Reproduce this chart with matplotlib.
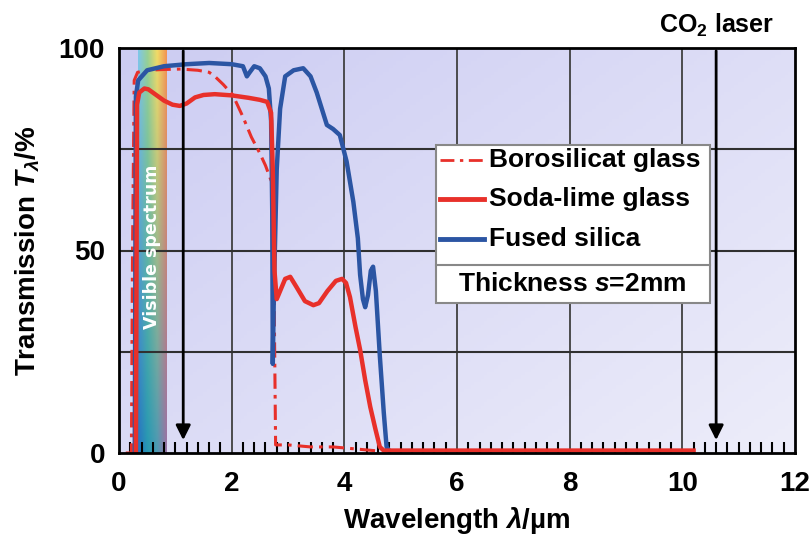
import numpy as np
import matplotlib
matplotlib.use("Agg")
import matplotlib.pyplot as plt
from matplotlib import font_manager as fm
from matplotlib.patches import Rectangle
from matplotlib.lines import Line2D
from matplotlib.ticker import MultipleLocator

# --- data (wavelength in um, transmission in %) ---
silica_x = [0.28, 0.30, 0.34, 0.5, 0.8, 1.2, 1.6, 2.0, 2.2, 2.27, 2.32, 2.4, 2.5, 2.6,
            2.66, 2.70, 2.72, 2.73, 2.75, 2.80, 2.86, 2.95, 3.1, 3.27, 3.4, 3.51, 3.6,
            3.69, 3.8, 3.92, 4.04, 4.16, 4.24, 4.28, 4.33, 4.37, 4.42, 4.47, 4.51,
            4.56, 4.63, 4.70, 4.75, 4.80]
silica_t = [0, 88, 92, 94.5, 95.5, 96, 96.3, 96, 95.5, 93, 94, 95.5, 95, 93,
            90, 82, 60, 22, 40, 70, 85, 93, 94.5, 95, 93, 89, 85,
            81, 80, 78.5, 72, 62, 53, 44, 38, 36, 39, 45, 46,
            40, 24, 10, 1.5, 0.5]

soda_x = [0.30, 0.31, 0.32, 0.36, 0.45, 0.52, 0.65, 0.8, 0.95, 1.08, 1.2, 1.35, 1.5,
          1.7, 2.0, 2.3, 2.5, 2.63, 2.70, 2.73, 2.76, 2.80, 2.86, 2.95, 3.04, 3.15,
          3.3, 3.45, 3.55, 3.7, 3.85, 3.96, 4.03, 4.1, 4.2, 4.28, 4.37, 4.46, 4.55,
          4.63, 4.70, 6.0, 8.0, 10.2]
soda_t = [0, 40, 86, 89, 90, 89.8, 88.5, 87, 86, 85.7, 86.3, 87.8, 88.4,
          88.6, 88.3, 87.7, 87.2, 86.7, 84, 70, 45, 38, 40, 43, 43.5, 41,
          37.5, 36.5, 37, 40, 42.5, 43, 42, 38.5, 31, 25.5, 18, 11.4, 6,
          1.5, 0.6, 0.6, 0.6, 0.6]

boro_x = [0.12, 0.22, 0.24, 0.27, 0.33, 0.5, 0.8, 1.1, 1.4, 1.6, 1.7, 1.85, 2.02,
          2.2, 2.35, 2.5, 2.6, 2.68, 2.74, 2.76, 2.78, 3.0, 3.4, 3.8, 4.2, 4.6]
boro_t = [0, 0, 50, 92, 94, 94.5, 94.7, 94.8, 94.5, 94, 93, 91, 88.4,
          83, 78, 74, 71, 68, 66, 30, 2, 2, 1.5, 1.5, 1, 0.5]

laser_lines = [1.14, 10.6]
x_ticks = [0, 2, 4, 6, 8, 10, 12]
y_ticks = [0, 50, 100]
grid_x = [2, 4, 6, 8, 10]
grid_y = [25, 50, 75]
visible_band = (0.33, 0.83)

names = {f.name for f in fm.fontManager.ttflist}
fam = "Liberation Sans Narrow" if "Liberation Sans Narrow" in names else "Liberation Sans"
plt.rcParams["font.family"] = [fam, "DejaVu Sans"]
plt.rcParams["font.weight"] = "bold"
plt.rcParams["mathtext.fontset"] = "custom"
plt.rcParams["mathtext.rm"] = fam + ":bold"
plt.rcParams["mathtext.it"] = fam + ":italic:bold"
plt.rcParams["mathtext.bf"] = fam + ":bold"

RED = "#e8302a"
BLUE = "#2b55a3"

fig = plt.figure(figsize=(8.11, 5.43), dpi=100)
ax = fig.add_axes([119 / 811, 1 - 453 / 543, 676 / 811, 405 / 543])
ax.set_xlim(0, 12)
ax.set_ylim(0, 100)

# lavender background gradient
gx, gy = np.meshgrid(np.linspace(0, 1, 200), np.linspace(1, 0, 120))
w = np.clip(0.55 * gx + 0.45 * (1 - gy), 0, 1)[..., None]
c0 = np.array([0.80, 0.80, 0.95])
c1 = np.array([0.93, 0.93, 0.98])
ax.imshow(c0 * (1 - w) + c1 * w, extent=[0, 12, 0, 100], aspect="auto", zorder=0)

# visible spectrum band
top = np.array([[0.50, 0.78, 0.92], [0.60, 0.82, 0.58], [0.95, 0.86, 0.40], [0.95, 0.58, 0.32]])
bot = np.array([[0.15, 0.45, 0.75], [0.15, 0.60, 0.70], [0.30, 0.60, 0.70], [0.60, 0.45, 0.65]])
ny = 100
t = np.linspace(0, 1, ny)[:, None, None]
cols = np.linspace(0, 3, 60)
def interp(arr):
    return np.stack([np.interp(cols, np.arange(4), arr[:, k]) for k in range(3)], axis=-1)
band = interp(top)[None] * (1 - t) + interp(bot)[None] * t
ax.imshow(band, extent=[visible_band[0], visible_band[1], 0, 100], aspect="auto", zorder=1)
ax.text(np.mean(visible_band), 51, "Visible spectrum", rotation=90, color="white",
        ha="center", va="center", fontsize=12.5, fontweight="bold", family="DejaVu Sans", zorder=2)

for gxv in grid_x:
    ax.axvline(gxv, color="#404040", lw=1.3, zorder=1.5)
for gyv in grid_y:
    ax.axhline(gyv, color="#303030", lw=1.5, zorder=1.5)

ax.plot(boro_x, boro_t, color=RED, lw=2.2, ls=(0, (5, 2, 1.2, 2)), zorder=3)
ax.plot(silica_x, silica_t, color=BLUE, lw=3.2, zorder=3)
ax.plot(soda_x, soda_t, color=RED, lw=3.2, zorder=4)

for lx in laser_lines:
    ax.annotate("", xy=(lx, 2.5), xytext=(lx, 100),
                arrowprops=dict(arrowstyle="-|>", lw=2, color="black", mutation_scale=22),
                zorder=5)
ax.text(laser_lines[1], 105.5, "CO$_\\mathrm{2}$ laser", ha="center", va="center",
        fontsize=18, fontweight="bold", clip_on=False)

# legend box
ax.add_patch(Rectangle((0.469, 0.370), 0.405, 0.390, transform=ax.transAxes,
                       facecolor="white", edgecolor="#888888", lw=1.5, zorder=6))
ax.add_line(Line2D([0.469, 0.874], [0.464, 0.464], transform=ax.transAxes,
                   color="#888888", lw=1.5, zorder=7))
entries = [("Borosilicat glass", RED, (0, (5, 2, 1.2, 2)), 2.0, 0.723),
           ("Soda-lime glass", RED, "-", 3.5, 0.627),
           ("Fused silica", BLUE, "-", 3.5, 0.528)]
for label, col, ls, lw, yy in entries:
    ax.add_line(Line2D([0.475, 0.540], [yy, yy], transform=ax.transAxes,
                       color=col, ls=ls, lw=lw, zorder=7))
    ax.text(0.548, yy, label, transform=ax.transAxes, ha="left", va="center",
            fontsize=19, fontweight="bold", zorder=7)
ax.text(0.671, 0.417, "Thickness $\\mathit{s}$=2mm", transform=ax.transAxes,
        ha="center", va="center", fontsize=19, fontweight="bold", zorder=7)

ax.set_xticks(x_ticks)
ax.set_yticks(y_ticks)
ax.xaxis.set_minor_locator(MultipleLocator(0.2))
ax.tick_params(axis="both", which="major", length=0, labelsize=20, pad=10)
ax.tick_params(axis="x", which="minor", direction="in", length=8, width=1.5, top=False)
ax.tick_params(axis="x", which="major", pad=13)
for lab in ax.get_xticklabels() + ax.get_yticklabels():
    lab.set_fontweight("bold")
for sp in ax.spines.values():
    sp.set_linewidth(2)
    sp.set_zorder(8)

ax.set_xlabel("Wavelength $\\lambda$/\u00b5m", fontsize=20, fontweight="bold", labelpad=6)
ax.set_ylabel("Transmission $\\mathit{T}_\\lambda$/%", fontsize=20, fontweight="bold", labelpad=12)

fig.savefig("out.png", dpi=100)
